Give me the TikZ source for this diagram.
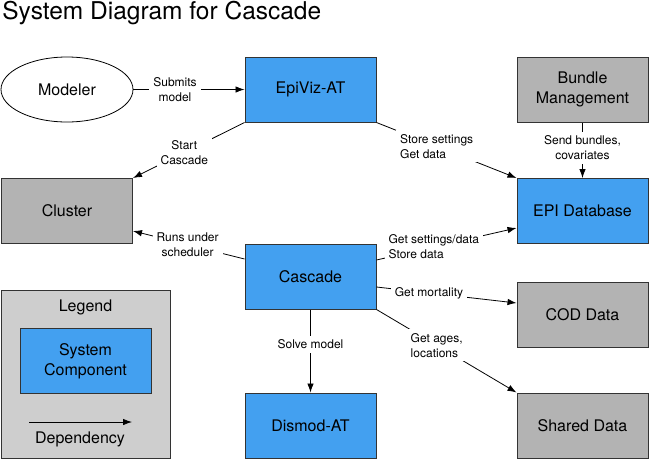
\documentclass[tikz,border=0pt]{standalone}
\usepackage{fontspec}
\setmainfont{TeX Gyre Heros}
\usepackage{tikz}
\usetikzlibrary{positioning}
\usetikzlibrary{shapes.geometric}
\usetikzlibrary{arrows.meta}

\definecolor{compblue}{RGB}{67,160,240}
\definecolor{extgray}{RGB}{179,179,179}
\definecolor{legendgray}{RGB}{206,206,206}

\begin{document}
\begin{tikzpicture}[x=1pt, y=-1pt,
        sysbox/.style={rectangle, draw=black!80, line width=1pt, minimum width=131pt, minimum height=65pt, align=center, font=\fontsize{16}{20}\selectfont},
        bluebox/.style={sysbox, fill=compblue},
        graybox/.style={sysbox, fill=extgray},
        lbl/.style={fill=white, inner sep=4pt, font=\fontsize{12}{15}\selectfont, align=center},
        >={Latex[length=9pt,width=6.5pt]}, ->, line width=0.8pt]
        \useasboundingbox (0,0) rectangle (649,461);

        \node[anchor=base west, inner sep=0pt, font=\fontsize{24.5}{29}\selectfont] (title) at (2,19.5) {System Diagram for Cascade};

        \node[ellipse, draw=black, line width=0.8pt, minimum width=132pt, minimum height=65pt, font=\fontsize{16}{20}\selectfont] (modeler) at (67,89.5) {Modeler};
        \node[bluebox]    (epiviz)    at (310.5,89.5)  {EpiViz-AT};
        \node[graybox]    (bundle)    at (582.5,89.5)  {Bundle\\Management};
        \node[graybox]    (cluster)   at (67,211)      {Cluster};
        \node[bluebox]    (epidb)     at (582.5,211)   {EPI Database};
        \node[bluebox]    (cascade)   at (310.5,276.5) {Cascade};
        \node[graybox]    (cod)       at (582.5,314.5) {COD Data};
        \node[bluebox]    (dismod)    at (310.5,425.5) {Dismod-AT};
        \node[graybox]    (shared)    at (582.5,425.5) {Shared Data};

        % legend
        \node[draw=black!80, line width=1pt, fill=legendgray, minimum width=169pt, minimum height=168pt] (legend) at (85.5,374) {};
        \node[font=\fontsize{16}{20}\selectfont] (legendtitle) at (85.5,307) {Legend};
        \node[bluebox]    (legendbox) at (85.5,361)    {System\\Component};
        \coordinate (depstart) at (29,422);
        \coordinate (depend)   at (132,422);
        \path(depstart)edge(depend);
        \node[font=\fontsize{16}{20}\selectfont] (deplabel) at (80,439) {Dependency};

        \path(modeler.east)edge node[lbl, pos=0.375]{Submits\\model}(epiviz.west);
        \path(epiviz.south west)edge node[lbl, pos=0.54]{Start\\Cascade}(cluster.north east);
        \path(epiviz.south east)edge node[lbl, pos=0.43, align=left]{Store settings\\Get data}(epidb.north west);
        \path(bundle.south)edge node[lbl, pos=0.46]{Send bundles,\\covariates}(epidb.north);

        \path([yshift=17.5pt]cascade.west)edge node[lbl, pos=0.51]{Runs under\\scheduler}([yshift=-20pt]cluster.east);
        \path([yshift=16.5pt]cascade.east)edge node[lbl, pos=0.41, align=left]{Get settings/data\\Store data}([yshift=-17pt]epidb.west);
        \path([yshift=-10.5pt]cascade.east)edge node[lbl, pos=0.375]{Get mortality}([yshift=11.5pt]cod.west);
        \path(cascade.south east)edge node[lbl, pos=0.43, align=left]{Get ages,\\locations}(shared.north west);
        \path(cascade.south)edge node[lbl, pos=0.42]{Solve model}(dismod.north);

    \end{tikzpicture}
\end{document}
